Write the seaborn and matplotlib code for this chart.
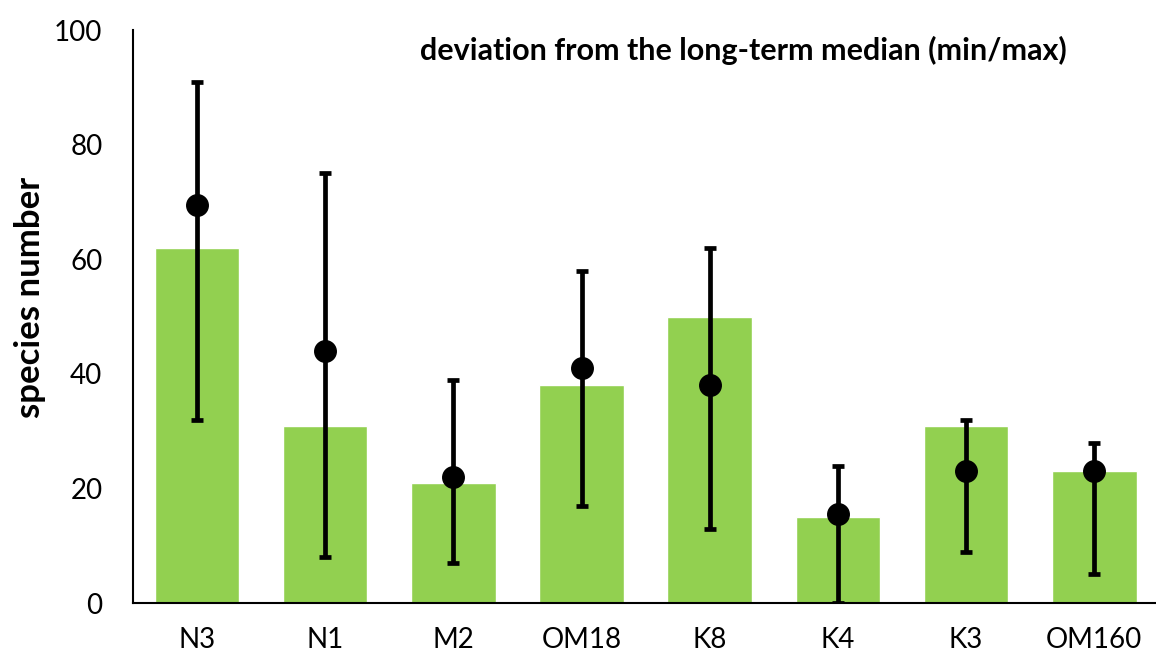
import matplotlib
matplotlib.use("Agg")
import matplotlib.pyplot as plt
import seaborn as sns
import pandas as pd
import numpy as np

categories = ["N3", "N1", "M2", "OM18", "K8", "K4", "K3", "OM160"]
bar_values = [62, 31, 21, 38, 50, 15, 31, 23]
median_values = [69.5, 44, 22, 41, 38, 15.5, 23, 23]
min_values = [32, 8, 7, 17, 13, 0, 9, 5]
max_values = [91, 75, 39, 58, 62, 24, 32, 28]
y_ticks = [0, 20, 40, 60, 80, 100]

title_text = "deviation from the long-term median (min/max)"
y_label = "species number"

sns.set_theme(style="white")
plt.rcParams["font.family"] = ["Lato", "DejaVu Sans"]

df = pd.DataFrame({"site": categories, "value": bar_values})

fig = plt.figure(figsize=(11.56, 6.57), dpi=100)
ax = fig.add_axes([0.115, 0.082, 0.887, 0.872])

sns.barplot(data=df, x="site", y="value", color="#92D050", saturation=1,
            width=0.66, ax=ax, zorder=1)

xpos = np.arange(len(categories))
med = np.array(median_values)
yerr = np.vstack([med - np.array(min_values), np.array(max_values) - med])
ax.errorbar(xpos, med, yerr=yerr, fmt="o", color="black", ecolor="black",
            elinewidth=3.4, capsize=4.5, capthick=3.4, markersize=15.5, zorder=3)

ax.set_ylim(0, 100)
ax.set_xlim(-0.5, len(categories) - 0.5)
ax.set_yticks(y_ticks)
ax.set_yticklabels([str(t) for t in y_ticks], fontsize=20, color="black")
ax.set_xticks(xpos)
ax.set_xticklabels(categories, fontsize=20, color="black")
ax.tick_params(axis="x", which="major", length=0, pad=17)
ax.set_xticks(np.arange(-0.5, len(categories), 1.0), minor=True)
ax.tick_params(axis="x", which="minor", length=7, width=1.5, color="black", direction="out")
ax.tick_params(axis="y", which="major", length=7, width=1.5, color="black", direction="out", pad=15)

ax.set_xlabel("")
ax.set_ylabel(y_label, fontsize=25, fontweight="bold", color="black")
ax.yaxis.set_label_coords(-0.085, 0.534)

for s in ["top", "right"]:
    ax.spines[s].set_visible(False)
for s in ["left", "bottom"]:
    ax.spines[s].set_color("black")
    ax.spines[s].set_linewidth(1.5)

ax.text(0.595, 0.965, title_text, transform=ax.transAxes, ha="center", va="center",
        fontsize=22, fontweight="bold", color="black")

fig.savefig("out.png", dpi=100)
